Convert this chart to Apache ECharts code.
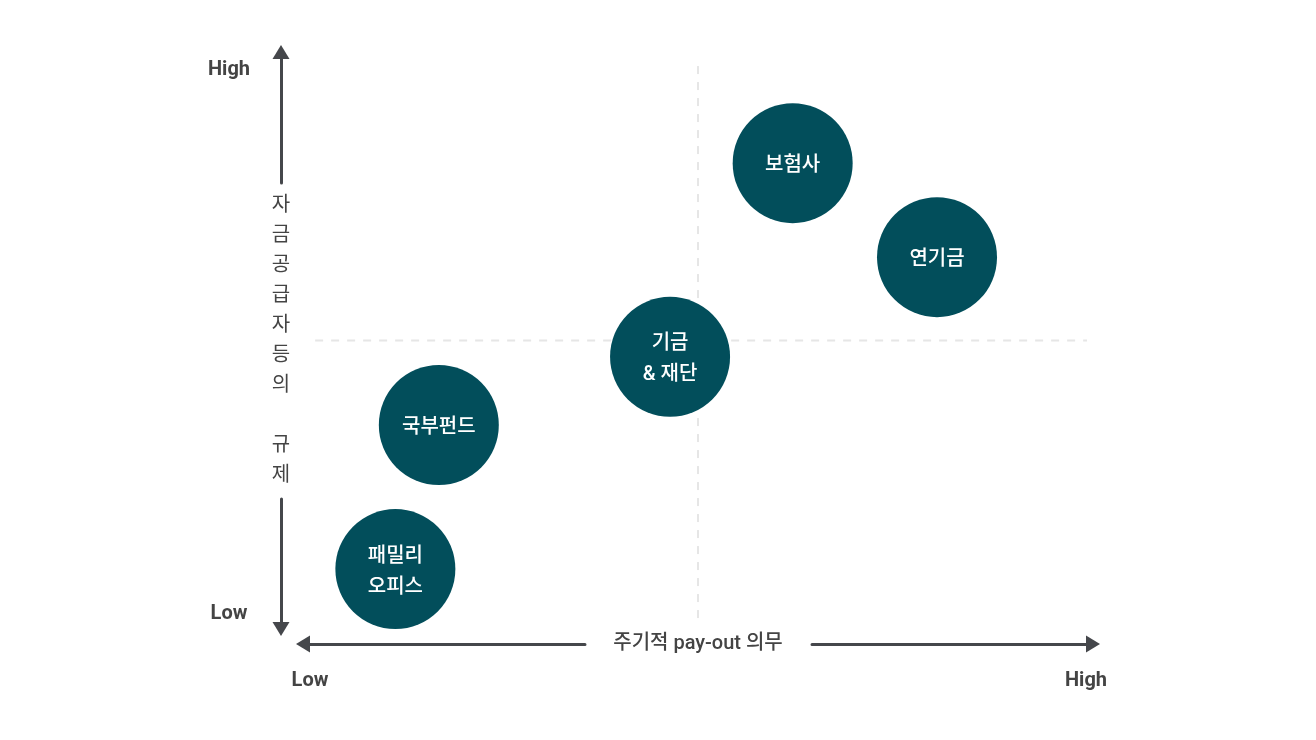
<!DOCTYPE html>
<html>
<head>
<meta charset="utf-8">
<title>자금공급자 포지셔닝</title>
<script type="text/javascript" src="https://cdn.jsdelivr.net/npm/echarts@6/dist/echarts.min.js"></script>
<style type="text/css">
html, body {margin: 0; padding: 0; background: #fff;}
#main {width: 1316px; height: 740px;}
</style>
</head>
<body>
<div id="main"></div>
<script type="text/javascript">
// 데이터 (0~100 상대 위치, 그림에서 읽은 값)
var names = ['패밀리\n오피스', '국부펀드', '기금\n& 재단', '보험사', '연기금'];
var payout = [11.0, 16.6, 46.4, 62.2, 80.8];     // x: 주기적 pay-out 의무
var regulation = [9.4, 35.0, 47.1, 81.5, 64.8];  // y: 자금공급자등의 규제

var xTickValues = [0, 100];
var yTickValues = [1.5, 98];
var tickNames = ['Low', 'High'];

// 사분면 기준선 (가운데 50)
var hGuide = [[-1.4, 50], [101.8, 50]];
var vGuide = [[50, 0.7], [50, 99.3]];

var xTitle = '주기적 pay-out 의무';
var yTitle = '자금공급자등의 규제';

var FONT = "Roboto, 'Noto Sans CJK KR', sans-serif";
var AXIS_COLOR = '#45474b';
var TEXT_COLOR = '#444';

var points = names.map(function (n, i) {
    return {name: n, value: [payout[i], regulation[i]]};
});

// 세로 제목: 글자를 한 줄씩, 공백은 빈 줄로
var yTitleVertical = yTitle.split('').join('\n');

var myChart = echarts.init(document.getElementById('main'));

// 축선: 가운데에 제목 자리를 비워 둔다 (선 - 빈칸 - 선)
function axisLineStyle(dash) {
    return {
        show: true,
        onZero: false,
        symbol: ['triangle', 'triangle'],
        symbolSize: [17, 14],
        symbolOffset: [-7, 7],
        lineStyle: {color: AXIS_COLOR, width: 3, type: dash}
    };
}

function guideSeries(data) {
    return {
        type: 'line',
        data: data,
        z: 1,
        clip: false,
        silent: true,
        symbol: 'none',
        lineStyle: {color: '#e6e6e6', width: 2, type: [8, 8]},
        emphasis: {disabled: true}
    };
}

var option = {
    backgroundColor: '#fff',
    animation: false,
    textStyle: {fontFamily: FONT},
    grid: {left: 310, right: 230, top: 59, bottom: 118},
    xAxis: {
        type: 'value',
        min: 0,
        max: 100,
        offset: 22,
        axisLine: axisLineStyle([275, 227, 400]),
        axisTick: {show: false},
        splitLine: {show: false},
        axisLabel: {
            customValues: xTickValues,
            margin: 27,
            color: TEXT_COLOR,
            fontSize: 20,
            fontWeight: 'bold',
            fontFamily: FONT,
            formatter: function (v) { return tickNames[xTickValues.indexOf(v)]; }
        },
        name: xTitle,
        nameLocation: 'middle',
        nameGap: 0,
        nameMoveOverlap: false,
        nameTextStyle: {
            color: TEXT_COLOR,
            fontSize: 20,
            fontWeight: 500,
            fontFamily: FONT,
            align: 'center',
            verticalAlign: 'middle'
        }
    },
    yAxis: {
        type: 'value',
        min: 0,
        max: 100,
        offset: 29,
        axisLine: axisLineStyle([123, 316, 300]),
        axisTick: {show: false},
        splitLine: {show: false},
        axisLabel: {
            customValues: yTickValues,
            margin: 52,
            align: 'center',
            color: TEXT_COLOR,
            fontSize: 20,
            fontWeight: 'bold',
            fontFamily: FONT,
            formatter: function (v) { return tickNames[yTickValues.indexOf(v)]; }
        },
        name: yTitleVertical,
        nameLocation: 'middle',
        nameGap: 0,
        nameRotate: 0,
        nameMoveOverlap: false,
        nameTextStyle: {
            color: TEXT_COLOR,
            fontSize: 20,
            lineHeight: 30,
            fontFamily: FONT,
            align: 'center',
            verticalAlign: 'middle'
        }
    },
    series: [
        guideSeries(hGuide),
        guideSeries(vGuide),
        {
            type: 'scatter',
            z: 3,
            data: points,
            symbol: 'circle',
            symbolSize: 120,
            itemStyle: {color: '#024e5b', opacity: 1},
            label: {
                show: true,
                position: 'inside',
                offset: [0, 3],
                formatter: '{b}',
                color: '#fff',
                fontSize: 20,
                fontWeight: 500,
                lineHeight: 31,
                fontFamily: FONT
            },
            emphasis: {disabled: true}
        }
    ]
};

myChart.setOption(option);
</script>
</body>
</html>
